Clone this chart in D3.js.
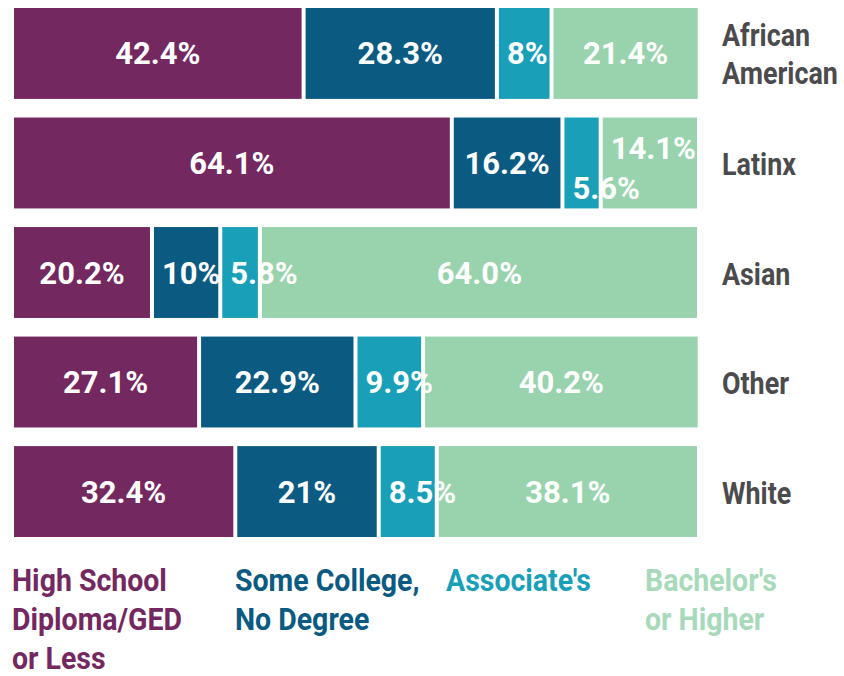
<!DOCTYPE html>
<html>
<head>
<meta charset="utf-8">
<script src="https://cdn.jsdelivr.net/npm/d3@7"></script>
<style>
  body { margin: 0; background: #fff; }
  .bar-label { font-family: Roboto, "Open Sans", sans-serif; font-weight: 700; fill: #fff; }
  .cat-label, .legend-label { font-family: Roboto, "Open Sans", sans-serif; font-weight: 700; }
</style>
</head>
<body>
<div id="chart"></div>
<script>
const groups = ["African American", "Latinx", "Asian", "Other", "White"];
const levels = ["High School Diploma/GED or Less", "Some College, No Degree", "Associate's", "Bachelor's or Higher"];

const highSchool = [42.4, 64.1, 20.2, 27.1, 32.4];
const someCollege = [28.3, 16.2, 10, 22.9, 21];
const associates = [8, 5.6, 5.8, 9.9, 8.5];
const bachelors = [21.4, 14.1, 64.0, 40.2, 38.1];

const labelText = [
    ["42.4%", "28.3%", "8%", "21.4%"],
    ["64.1%", "16.2%", "5.6%", "14.1%"],
    ["20.2%", "10%", "5.8%", "64.0%"],
    ["27.1%", "22.9%", "9.9%", "40.2%"],
    ["32.4%", "21%", "8.5%", "38.1%"]
];

const legendLines = [
    ["High School", "Diploma/GED", "or Less"],
    ["Some College,", "No Degree"],
    ["Associate's"],
    ["Bachelor's", "or Higher"]
];
const groupLines = [["African", "American"], ["Latinx"], ["Asian"], ["Other"], ["White"]];

const colors = ["#73285f", "#0b5a81", "#199fb7", "#98d3ae"];
const legendColors = ["#73285f", "#0b5a81", "#199fb7", "#a8d9bb"];

const width = 844, height = 676;
const gap = 2;
const squeeze = 0.84; // no condensed face installed, so narrow Roboto by hand

const svg = d3.select("#chart")
    .append("svg")
    .attr("width", width)
    .attr("height", height);

const x = d3.scaleLinear()
    .domain([0, 100])
    .range([14, 697]);

const y = d3.scaleBand()
    .domain(groups)
    .range([8, 537])
    .paddingInner(0.17);

const series = [highSchool, someCollege, associates, bachelors];

const rows = groups.map((g, gi) => {
    let start = 0;
    return series.map((s, si) => {
        const seg = {group: g, gi: gi, si: si, x0: start, x1: start + s[gi], text: labelText[gi][si]};
        start += s[gi];
        return seg;
    });
});

const rowG = svg.selectAll("g.row")
    .data(rows)
    .enter()
    .append("g")
    .attr("class", "row");

rowG.selectAll("rect")
    .data(d => d)
    .enter()
    .append("rect")
    .attr("x", d => x(d.x0) + (d.si > 0 ? gap : 0))
    .attr("y", d => y(d.group))
    .attr("width", d => x(d.x1) - x(d.x0) - (d.si > 0 ? gap : 0) - (d.si < 3 ? gap : 0))
    .attr("height", y.bandwidth())
    .attr("fill", d => colors[d.si]);

// labels: centred when they fit, else start just inside the segment
rowG.each(function(row) {
    const g = d3.select(this);
    const cy = y(row[0].group) + y.bandwidth() / 2;
    const texts = row.map(d => {
        const t = g.append("text")
            .attr("class", "bar-label")
            .attr("font-size", 31)
            .attr("y", cy + 11)
            .text(d.text);
        const w = t.node().getComputedTextLength();
        const left = x(d.x0) + (d.si > 0 ? gap : 0);
        const right = x(d.x1) - (d.si < 3 ? gap : 0);
        let tx;
        if (w + 12 > right - left) {
            tx = left + 8;
        } else {
            tx = (left + right) / 2 - w / 2;
        }
        t.attr("x", tx);
        return {t: t, x: tx, w: w};
    });
    for (let i = 0; i < texts.length - 1; i++) {
        const a = texts[i], b = texts[i + 1];
        if (a.x + a.w > b.x - 2) {
            a.t.attr("y", cy + 36);
            b.t.attr("y", cy - 4);
        }
    }
});

// group names on the right
svg.selectAll("text.cat-label")
    .data(groups)
    .enter()
    .append("text")
    .attr("class", "cat-label")
    .attr("font-size", 32)
    .attr("fill", "#4b4b4d")
    .attr("transform", d => `translate(722, ${y(d) + y.bandwidth() / 2 + 12}) scale(${squeeze}, 1)`)
    .each(function(d, i) {
        const lines = groupLines[i];
        const t = d3.select(this);
        lines.forEach((line, li) => {
            t.append("tspan")
                .attr("x", 0)
                .attr("dy", li === 0 ? -(lines.length - 1) * 19 : 38)
                .text(line);
        });
    });

// legend along the bottom
const legendX = [12, 235, 446, 645];
svg.selectAll("text.legend-label")
    .data(levels)
    .enter()
    .append("text")
    .attr("class", "legend-label")
    .attr("font-size", 32)
    .attr("fill", (d, i) => legendColors[i])
    .attr("transform", (d, i) => `translate(${legendX[i]}, 591) scale(0.89, 1)`)
    .each(function(d, i) {
        const t = d3.select(this);
        legendLines[i].forEach((line, li) => {
            t.append("tspan")
                .attr("x", 0)
                .attr("dy", li === 0 ? 0 : 39)
                .text(line);
        });
    });
</script>
</body>
</html>
